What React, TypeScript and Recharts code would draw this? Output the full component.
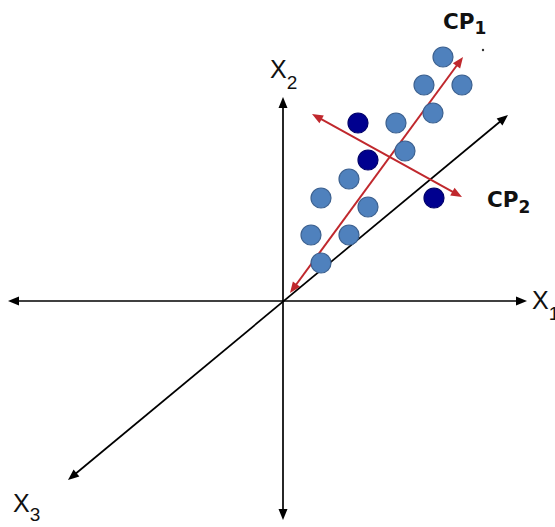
import { ReferenceDot, ReferenceLine, Scatter, ScatterChart, XAxis, YAxis } from "recharts";

// observations, origin of the X1/X2 plane at (0, 0)
const lightX = [160, 141, 179, 150, 113, 122, 66, 38, 85, 28, 66, 38];
const lightY = [244, 216, 216, 188, 178, 150, 122, 103, 94, 66, 66, 38];
const darkX = [75, 85, 151];
const darkY = [178, 141, 103];

// axis ends: [x1, y1, x2, y2]
const axisX1 = [-275, 0, 244, 0];
const axisX2 = [0, -219, 0, 204];
const axisX3 = [-215, -179, 225, 186];
const axisCP1 = [7, 8, 180, 244];
const axisCP2 = [29, 187, 179, 104];

const W = 555;
const H = 527;

const lightPts = lightX.map((x, i) => ({ x, y: lightY[i] }));
const darkPts = darkX.map((x, i) => ({ x, y: darkY[i] }));

const ARIAL = "'Liberation Sans', Arial, sans-serif";
const BOLD = "'DejaVu Sans', 'Liberation Sans', sans-serif";

function arrowShape(color: string, width: number) {
  return (p: any) => {
    const { x1, y1, x2, y2 } = p;
    const dx = x2 - x1;
    const dy = y2 - y1;
    const len = Math.hypot(dx, dy);
    const ux = dx / len;
    const uy = dy / len;
    const hl = 11;
    const hw = 4.5;
    const head = (tx: number, ty: number, sx: number, sy: number) => {
      const bx = tx - sx * hl;
      const by = ty - sy * hl;
      return `${tx},${ty} ${bx - sy * hw},${by + sx * hw} ${bx + sy * hw},${by - sx * hw}`;
    };
    return (
      <g>
        <line
          x1={x1 + ux * (hl - 2)}
          y1={y1 + uy * (hl - 2)}
          x2={x2 - ux * (hl - 2)}
          y2={y2 - uy * (hl - 2)}
          stroke={color}
          strokeWidth={width}
        />
        <polygon points={head(x2, y2, ux, uy)} fill={color} />
        <polygon points={head(x1, y1, -ux, -uy)} fill={color} />
      </g>
    );
  };
}

function label(
  main: string,
  sub: string,
  font: string,
  size: number,
  subSize: number,
  subDy: number,
  bold: boolean,
) {
  return (p: any) => (
    <text
      x={p.cx}
      y={p.cy}
      fontFamily={font}
      fontSize={size}
      fontWeight={bold ? 700 : 400}
      fill="#111"
    >
      <tspan>{main}</tspan>
      <tspan fontSize={subSize} dy={subDy}>
        {sub}
      </tspan>
    </text>
  );
}

const seg = (a: number[]) => [
  { x: a[0], y: a[1] },
  { x: a[2], y: a[3] },
];

export default function App() {
  return (
    <div style={{ position: "absolute", left: 0, top: 0, background: "#fff" }}>
      <ScatterChart width={W} height={H} margin={{ top: 0, right: 0, bottom: 0, left: 0 }}>
        <XAxis type="number" dataKey="x" domain={[-283, 272]} hide />
        <YAxis type="number" dataKey="y" domain={[-226, 301]} hide />

        <ReferenceLine segment={seg(axisX1)} shape={arrowShape("#000", 1.7)} ifOverflow="visible" />
        <ReferenceLine segment={seg(axisX2)} shape={arrowShape("#000", 1.7)} ifOverflow="visible" />
        <ReferenceLine segment={seg(axisX3)} shape={arrowShape("#000", 1.7)} ifOverflow="visible" />

        <Scatter
          data={lightPts}
          isAnimationActive={false}
          shape={(p: any) => (
            <circle cx={p.cx} cy={p.cy} r={10} fill="#4F81BD" stroke="#3C6190" strokeWidth={1.2} />
          )}
        />
        <Scatter
          data={darkPts}
          isAnimationActive={false}
          shape={(p: any) => (
            <circle cx={p.cx} cy={p.cy} r={10} fill="#00008F" stroke="#00006A" strokeWidth={1.2} />
          )}
        />

        <ReferenceLine segment={seg(axisCP1)} shape={arrowShape("#C0282D", 2)} ifOverflow="visible" />
        <ReferenceLine segment={seg(axisCP2)} shape={arrowShape("#C0282D", 2)} ifOverflow="visible" />

        <ReferenceDot x={-13} y={223} ifOverflow="visible" shape={label("X", "2", ARIAL, 25, 19, 11, false)} />
        <ReferenceDot x={249} y={-8} ifOverflow="visible" shape={label("X", "1", ARIAL, 25, 19, 11, false)} />
        <ReferenceDot x={-270} y={-211} ifOverflow="visible" shape={label("X", "3", ARIAL, 25, 19, 9, false)} />
        <ReferenceDot x={160} y={272} ifOverflow="visible" shape={label("CP", "1", BOLD, 21.5, 17, 5, true)} />
        <ReferenceDot x={204} y={94} ifOverflow="visible" shape={label("CP", "2", BOLD, 21.5, 17, 6, true)} />
        <ReferenceDot x={200} y={251} r={1.2} fill="#333" stroke="none" ifOverflow="visible" />
      </ScatterChart>
    </div>
  );
}
